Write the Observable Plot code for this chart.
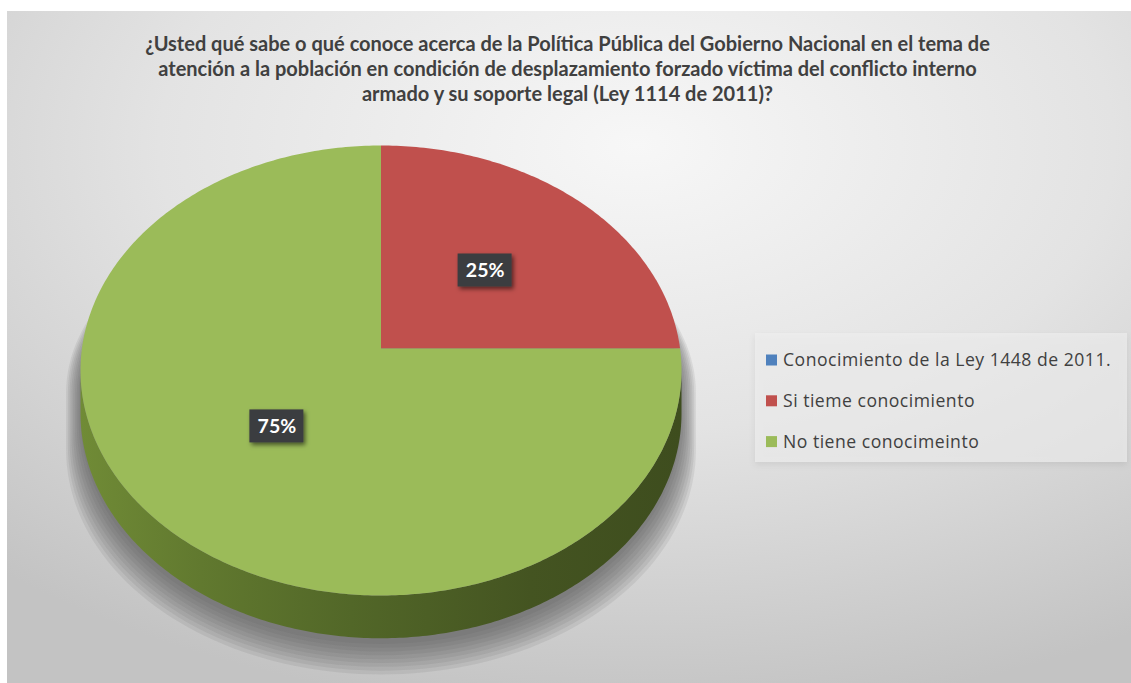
<!DOCTYPE html>
<html><head><meta charset="utf-8">
<script src="https://cdn.jsdelivr.net/npm/d3@7"></script>
<script src="https://cdn.jsdelivr.net/npm/@observablehq/plot@0.6"></script>
<style>html,body{margin:0;padding:0;background:#fff;overflow:hidden}#chart svg{display:block}</style>
</head><body><div id="chart"></div>
<script>
// ---- data ----
const titleLines = [
  "¿Usted qué sabe o qué conoce acerca de la Política Pública del Gobierno Nacional en el tema de",
  "atención a la población en condición de desplazamiento forzado víctima del conflicto interno",
  "armado y su soporte legal (Ley 1114 de 2011)?"
];
const categories = ["Conocimiento de la Ley 1448 de 2011.", "Si tieme conocimiento", "No tiene conocimeinto"];
const values = [0, 25, 75];
const colors = ["#4f81bd", "#c0504d", "#9bbb59"];

// ---- layout ----
const W = 1131, H = 683;
const apex = [0, 0.098];   // perspective offset of the pie centre (unit space)
const depth = 0.19;        // thickness of the 3D wall (unit space)
const labelR = 0.49;
const FONT = "Lato, 'Open Sans', sans-serif";
const BOX = "#3b3d40";
const xDomain = [-1, 1], xRange = [80, 681], yDomain = [-1, 1], yRange = [595, 145];

const total = d3.sum(values);
let acc = 0;
const slices = categories.map((c, i) => {
  const a0 = acc / total * 2 * Math.PI; acc += values[i];
  const a1 = acc / total * 2 * Math.PI;
  return {c, v: values[i], i, color: colors[i], a0, a1};
}).filter(s => s.v > 0);

function hit(theta) {
  const dx = Math.sin(theta), dy = Math.cos(theta);
  const ad = apex[0] * dx + apex[1] * dy, aa = apex[0] ** 2 + apex[1] ** 2;
  const s = -ad + Math.sqrt(ad * ad - aa + 1);
  return [apex[0] + s * dx, apex[1] + s * dy];
}
function arcPhis(s) {
  const p0 = hit(s.a0), p1 = hit(s.a1);
  const f0 = Math.atan2(p0[1], p0[0]);
  let f1 = Math.atan2(p1[1], p1[0]);
  while (f1 >= f0 - 1e-9) f1 -= 2 * Math.PI;
  const n = Math.max(2, Math.ceil((f0 - f1) / (Math.PI / 240)));
  return d3.range(n + 1).map(k => f0 + (f1 - f0) * k / n);
}
const slicePts = slices.map(s => [{x: apex[0], y: apex[1]}, ...arcPhis(s).map(f => ({x: Math.cos(f), y: Math.sin(f)}))]);
const sidePts = slices.map(s => {
  const fs = arcPhis(s).filter(f => Math.sin(f) <= 0.0001);
  if (fs.length < 2) return null;
  return [...fs.map(f => ({x: Math.cos(f), y: Math.sin(f)})),
          ...fs.slice().reverse().map(f => ({x: Math.cos(f), y: Math.sin(f) - depth}))];
});
// soft shadow as stacked translucent silhouettes (growing outward and downward)
const shadowLayers = d3.range(9).map(k => {
  const sx = 1.0 + 0.006 * k, drop = 0.025 + 0.017 * k;
  return [
    ...d3.range(0, 181, 2).map(d => ({x: sx * Math.cos(d * Math.PI / 180), y: 0.88 * Math.sin(d * Math.PI / 180) - 0.1})),
    ...d3.range(180, 361, 2).map(d => ({x: sx * Math.cos(d * Math.PI / 180), y: Math.sin(d * Math.PI / 180) - depth - drop}))
  ];
}).reverse();
const labels = slices.map(s => {
  const m = (s.a0 + s.a1) / 2;
  return {x: apex[0] + labelR * Math.sin(m), y: apex[1] + labelR * Math.cos(m), t: Math.round(s.v / total * 100) + "%"};
});

// ---- decoration (background, defs, legend) ----
const background = () => {
  const g = d3.create("svg:g");
  const defs = g.append("defs");
  const rg = defs.append("radialGradient").attr("id", "bg-grad")
    .attr("cx", 0.56).attr("cy", 0.2).attr("r", 0.85);
  [[0, "#f7f7f7"], [0.5, "#e3e3e3"], [1, "#c3c3c3"]].forEach(([o, c]) => rg.append("stop").attr("offset", o).attr("stop-color", c));
  slices.forEach(s => {
    const h = d3.hsl(s.color);
    const lg = defs.append("linearGradient").attr("id", "side-" + s.i)
      .attr("gradientUnits", "userSpaceOnUse").attr("x1", 80).attr("x2", 681).attr("y1", 0).attr("y2", 0);
    [[0, 0.38], [0.2, 0.33], [0.45, 0.28], [0.75, 0.23], [1, 0.21]].forEach(([o, l]) =>
      lg.append("stop").attr("offset", o).attr("stop-color", d3.hsl(h.h, h.s + 0.02, l).formatHex()));
  });
  const fs = defs.append("filter").attr("id", "box-shadow").attr("x", "-30%").attr("y", "-30%").attr("width", "170%").attr("height", "170%");
  fs.append("feDropShadow").attr("dx", 2).attr("dy", 2.5).attr("stdDeviation", 2).attr("flood-color", "#000").attr("flood-opacity", 0.55);
  const fl = defs.append("filter").attr("id", "legend-shadow").attr("x", "-10%").attr("y", "-10%").attr("width", "120%").attr("height", "130%");
  fl.append("feDropShadow").attr("dx", 0).attr("dy", 3).attr("stdDeviation", 3).attr("flood-color", "#000").attr("flood-opacity", 0.12);
  g.append("rect").attr("x", 7).attr("y", 11).attr("width", W - 7).attr("height", H - 11).attr("fill", "url(#bg-grad)");
  return g.node();
};

const legend = () => {
  const g = d3.create("svg:g").attr("text-anchor", "start");
  g.append("rect").attr("x", 755).attr("y", 333).attr("width", 372).attr("height", 129)
    .attr("fill", "#f0f0f0").attr("fill-opacity", 0.6).attr("filter", "url(#legend-shadow)");
  categories.forEach((c, i) => {
    const cy = 360 + i * 40.8;
    g.append("rect").attr("x", 766).attr("y", cy - 5.5).attr("width", 11).attr("height", 11).attr("fill", colors[i]);
    g.append("text").attr("x", 783).attr("y", cy).attr("dy", "0.36em").attr("text-anchor", "start")
      .attr("font-family", "'Open Sans', sans-serif").attr("font-size", 17.6).attr("letter-spacing", 0.5)
      .attr("fill", "#404040").text(c);
  });
  return g.node();
};

const plot = Plot.plot({
  width: W, height: H, margin: 0,
  x: {domain: xDomain, range: xRange, axis: null},
  y: {domain: yDomain, range: yRange, axis: null},
  style: {fontFamily: FONT, background: "transparent", overflow: "visible"},
  marks: [
    background,
    ...shadowLayers.map(pts => Plot.line(pts, {x: "x", y: "y", curve: "linear-closed", fill: "#4a4a4a", fillOpacity: 0.1, stroke: "none"})),
    ...sidePts.map((pts, k) => pts ? Plot.line(pts, {x: "x", y: "y", curve: "linear-closed", fill: `url(#side-${slices[k].i})`, stroke: "none"}) : null).filter(Boolean),
    ...slicePts.map((pts, k) => Plot.line(pts, {x: "x", y: "y", curve: "linear-closed", fill: slices[k].color, stroke: "none"})),
    Plot.rect(labels, {x1: "x", x2: "x", y1: "y", y2: "y", insetLeft: -27, insetRight: -27, insetTop: -16.5, insetBottom: -16.5, fill: BOX}),
    Plot.text(labels, {x: "x", y: "y", text: "t", fill: "white", fontWeight: "bold", fontSize: 19.5, fontFamily: FONT}),
    Plot.text([titleLines.join("\n")], {text: d => d, frameAnchor: "top", lineAnchor: "top", dx: 1.5, dy: 32, lineHeight: 1.27, fontSize: 20, fontWeight: "bold", fill: "#404040", fontFamily: FONT}),
    legend
  ]
});
plot.querySelectorAll("g").forEach(g => {
  const f = (g.getAttribute("fill") || "").toLowerCase();
  if (f === BOX) g.setAttribute("filter", "url(#box-shadow)");
});
document.getElementById("chart").append(plot);
</script>
</body></html>
